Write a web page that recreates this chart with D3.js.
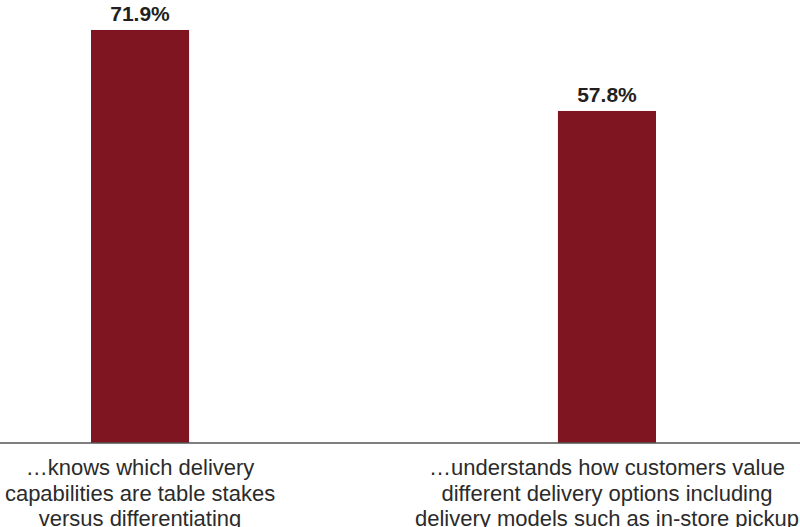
<!DOCTYPE html>
<html>
<head>
<meta charset="utf-8">
<script src="https://cdn.jsdelivr.net/npm/d3@7"></script>
<style>
  body { margin: 0; background: #fff; }
  svg { display: block; font-family: "Liberation Sans", Arial, Helvetica, sans-serif; }
  .valueLabel { font-weight: bold; font-size: 21px; fill: #231f20; }
  .catLabel { font-size: 22px; fill: #2b2b2b; }
</style>
</head>
<body>
<svg id="chart"></svg>
<script>
// data
var categories = ["knows", "understands"];
var values = [71.9, 57.8];
var catLines = [
  ["\u2026knows which delivery", "capabilities are table stakes", "versus differentiating"],
  ["\u2026understands how customers value", "different delivery options including", "delivery models such as in-store pickup"]
];

var width = 800, height = 527;
var baseline = 443;

var svg = d3.select("#chart")
  .attr("width", width)
  .attr("height", height);

var x = d3.scaleBand()
  .domain(categories)
  .range([91, 656])
  .paddingInner(0.79)
  .paddingOuter(0);

var y = d3.scaleLinear()
  .domain([0, 72])
  .range([baseline, 29.4]);

var data = categories.map((c, i) => ({name: c, value: values[i], lines: catLines[i]}));

svg.selectAll("rect.bar")
  .data(data)
  .enter()
  .append("rect")
  .attr("class", "bar")
  .attr("x", d => x(d.name))
  .attr("width", x.bandwidth())
  .attr("y", d => y(d.value))
  .attr("height", d => y(0) - y(d.value))
  .style("fill", "#7f1520");

// baseline axis across the whole width
svg.append("line")
  .attr("x1", 0)
  .attr("x2", width)
  .attr("y1", y(0))
  .attr("y2", y(0))
  .style("stroke", "#555")
  .style("stroke-width", 1.5);

svg.selectAll("text.valueLabel")
  .data(data)
  .enter()
  .append("text")
  .attr("class", "valueLabel")
  .attr("x", d => x(d.name) + x.bandwidth() / 2)
  .attr("y", d => y(d.value) - 9)
  .style("text-anchor", "middle")
  .text(d => d3.format(".1f")(d.value) + "%");

var cat = svg.selectAll("text.catLabel")
  .data(data)
  .enter()
  .append("text")
  .attr("class", "catLabel")
  .attr("x", d => x(d.name) + x.bandwidth() / 2)
  .attr("y", baseline + 32)
  .style("text-anchor", "middle");

cat.selectAll("tspan")
  .data(d => d.lines.map(l => ({text: l, x: x(d.name) + x.bandwidth() / 2})))
  .enter()
  .append("tspan")
  .attr("x", d => d.x)
  .attr("dy", (d, i) => i == 0 ? 0 : 25.5)
  .text(d => d.text);
</script>
</body>
</html>
